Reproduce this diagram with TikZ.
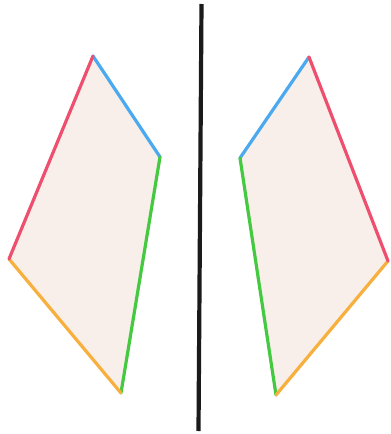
\documentclass[tikz,border=0pt]{standalone}
\definecolor{ered}{HTML}{EE4F6E}
\definecolor{eblue}{HTML}{4BA9EF}
\definecolor{egreen}{HTML}{45C940}
\definecolor{eorange}{HTML}{F7B03E}
\definecolor{efill}{HTML}{F8EEEA}
\definecolor{eblack}{HTML}{1A1A1A}
\tikzset{edge/.style={line width=3.2pt,line cap=round},
  face/.style={fill=efill,draw=none}}
\begin{document}
\begin{tikzpicture}[x=1pt,y=-1pt]
\useasboundingbox (0,0) rectangle (391,434);
% left quadrilateral
\coordinate (LT) at (93,56);
\coordinate (LR) at (160,157);
\coordinate (LB) at (121,393);
\coordinate (LL) at (9,259);
% right quadrilateral
\coordinate (RT) at (309,57);
\coordinate (RL) at (240,158);
\coordinate (RB) at (276,395);
\coordinate (RR) at (388,261);
% mirror line
\coordinate (MT) at (201.5,4);
\coordinate (MB) at (198.5,431);
\fill[face] (LT) -- (LR) -- (LB) -- (LL) -- cycle;
\fill[face] (RT) -- (RL) -- (RB) -- (RR) -- cycle;
\draw[edge,eblue] (LT) -- (LR);
\draw[edge,egreen] (LR) -- (LB);
\draw[edge,eorange] (LB) -- (LL);
\draw[edge,ered] (LL) -- (LT);
\draw[edge,eblue] (RT) -- (RL);
\draw[edge,egreen] (RL) -- (RB);
\draw[edge,eorange] (RB) -- (RR);
\draw[edge,ered] (RR) -- (RT);
\draw[eblack,line width=4.2pt] (MT) -- (MB);
\end{tikzpicture}
\end{document}
